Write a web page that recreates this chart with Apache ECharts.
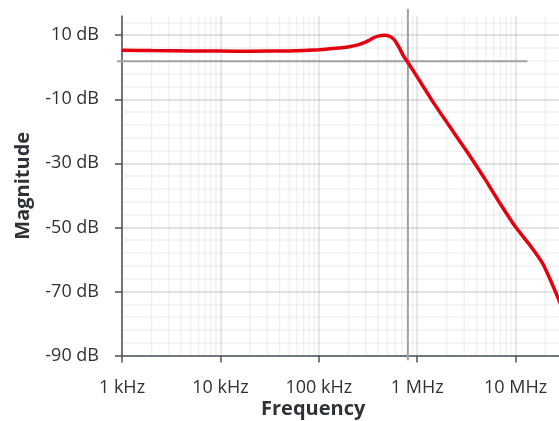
<!DOCTYPE html>
<html>
<head>
<meta charset="utf-8">
<script src="https://cdn.jsdelivr.net/npm/echarts@6/dist/echarts.min.js"></script>
<style>
  html, body { margin: 0; padding: 0; background: #ffffff; }
  #chart { width: 559px; height: 421px; }
</style>
</head>
<body>
<div id="chart"></div>
<script>
// Frequency response of the amplifier (magnitude in dB versus frequency in Hz)
const freqHz = [1e3, 2e3, 5e3, 1e4, 2e4, 5e4, 1e5, 1.3e5, 1.7e5, 2.1e5, 2.5e5, 2.85e5, 3.2e5, 3.6e5, 4.1e5, 4.6e5, 5.3e5, 5.8e5, 6.2e5, 6.7e5, 7.2e5, 8.0e5, 9.0e5, 1e6, 1.45e6, 2e6, 3.2e6, 5e6, 6.65e6, 1e7, 1.4e7, 1.9e7, 2.4e7, 2.8e7, 3e7];
const magDb  = [5.3, 5.2, 5.1, 5.05, 5.0, 5.1, 5.45, 5.75, 6.1, 6.5, 7.0, 7.6, 8.3, 9.2, 9.8, 10.0, 9.6, 8.7, 7.4, 5.6, 3.7, 1.6, -0.8, -3.0, -10.9, -17.2, -26.3, -35.4, -41.6, -49.9, -55.6, -61.5, -68.3, -73.2, -75.6];

// Axis ticks
const yTickValues = [-90, -70, -50, -30, -10, 10];
const xMin = 1e3, xMax = 1e8;
const yMin = -90, yMax = 16;

// Crosshair at the cutoff point
const crossFreq = 8.04e5;
const crossLevel = 1.9;
const crossSegments = [
  [890, crossLevel, 1.32e7, crossLevel],
  [crossFreq, 18.3, crossFreq, -91.5]
];

// Minor vertical grid at 2..9 within each decade
const minorFreqs = [];
for (let d = 3; d < 8; d++) {
  for (let k = 2; k <= 9; k++) minorFreqs.push(k * Math.pow(10, d));
}
const minorSegments = minorFreqs.map(f => [f, yMin, f, yMax]);

function segmentRenderer(color, width) {
  return function (params, api) {
    const p1 = api.coord([api.value(0), api.value(1)]);
    const p2 = api.coord([api.value(2), api.value(3)]);
    return {
      type: 'line',
      shape: { x1: p1[0], y1: p1[1], x2: p2[0], y2: p2[1] },
      style: { stroke: color, lineWidth: width }
    };
  };
}

const FONT = "'Open Sans', 'Noto Sans', sans-serif";
const TEXT = '#2d3237';
const AXIS = '#4e5459';
const MAJOR = 'rgba(0,0,0,0.15)';
const MINOR = 'rgba(0,0,0,0.055)';

// Horizontal split lines every 2 dB: major every 20 dB, minor every 4 dB
const hLineColors = [MAJOR, 'rgba(0,0,0,0)', MINOR, 'rgba(0,0,0,0)', MINOR, 'rgba(0,0,0,0)', MINOR, 'rgba(0,0,0,0)', MINOR, 'rgba(0,0,0,0)'];

function fmtFreq(v) {
  const r = Math.round(v);
  if (r >= 1e6) return Math.round(r / 1e6) + ' MHz';
  return Math.round(r / 1e3) + ' kHz';
}

const chart = echarts.init(document.getElementById('chart'), null, { renderer: 'canvas' });
chart.setOption({
  animation: false,
  backgroundColor: '#ffffff',
  textStyle: { fontFamily: FONT },
  title: {
    text: 'Frequency',
    left: 261,
    top: 399,
    padding: 0,
    textStyle: { fontFamily: FONT, fontSize: 20, fontWeight: 'bold', color: TEXT }
  },
  grid: { left: 122, top: 16, width: 492, height: 339.5, containLabel: false, outerBoundsMode: 'none' },
  xAxis: {
    type: 'log',
    logBase: 10,
    min: xMin,
    max: xMax,
    axisLine: { show: true, onZero: false, lineStyle: { color: AXIS, width: 1.5 } },
    axisTick: { show: true, length: 7, lineStyle: { color: AXIS, width: 1.5 } },
    axisLabel: { margin: 23, fontSize: 18, color: TEXT, fontFamily: FONT, formatter: fmtFreq, hideOverlap: false },
    splitLine: { show: true, lineStyle: { color: 'rgba(0,0,0,0.12)', width: 1.5 } },
    minorTick: { show: false },
    minorSplitLine: { show: false }
  },
  yAxis: [
    {
      type: 'value',
      min: yMin,
      max: yMax,
      name: 'Magnitude',
      nameLocation: 'middle',
      nameGap: 89,
      nameTextStyle: { fontFamily: FONT, fontSize: 20, fontWeight: 'bold', color: TEXT },
      axisLine: { show: true, onZero: false, lineStyle: { color: AXIS, width: 1.5 } },
      axisTick: { show: true, length: 7, customValues: yTickValues, lineStyle: { color: AXIS, width: 1.5 } },
      axisLabel: {
        margin: 23, fontSize: 18, color: TEXT, fontFamily: FONT,
        customValues: yTickValues,
        formatter: v => v + ' dB'
      },
      splitLine: { show: false }
    },
    {
      type: 'value',
      min: yMin,
      max: yMax,
      interval: 2,
      position: 'left',
      axisLine: { show: false },
      axisTick: { show: false },
      axisLabel: { show: false },
      splitLine: { show: true, lineStyle: { color: hLineColors, width: 1.5 } }
    }
  ],
  series: [
    {
      type: 'custom',
      name: 'minor-grid',
      silent: true,
      clip: false,
      z: 1,
      encode: { x: [0, 2], y: [1, 3] },
      renderItem: segmentRenderer(MINOR, 1.5),
      data: minorSegments
    },
    {
      type: 'custom',
      name: 'crosshair',
      silent: true,
      clip: false,
      z: 2,
      encode: { x: [0, 2], y: [1, 3] },
      renderItem: segmentRenderer('#9da2a7', 2),
      data: crossSegments
    },
    {
      type: 'line',
      name: 'Magnitude',
      z: 3,
      clip: false,
      smooth: 0.15,
      showSymbol: false,
      symbol: 'none',
      lineStyle: { color: '#e3000f', width: 3.5 },
      data: freqHz.map((f, i) => [f, magDb[i]])
    }
  ]
});
</script>
</body>
</html>
